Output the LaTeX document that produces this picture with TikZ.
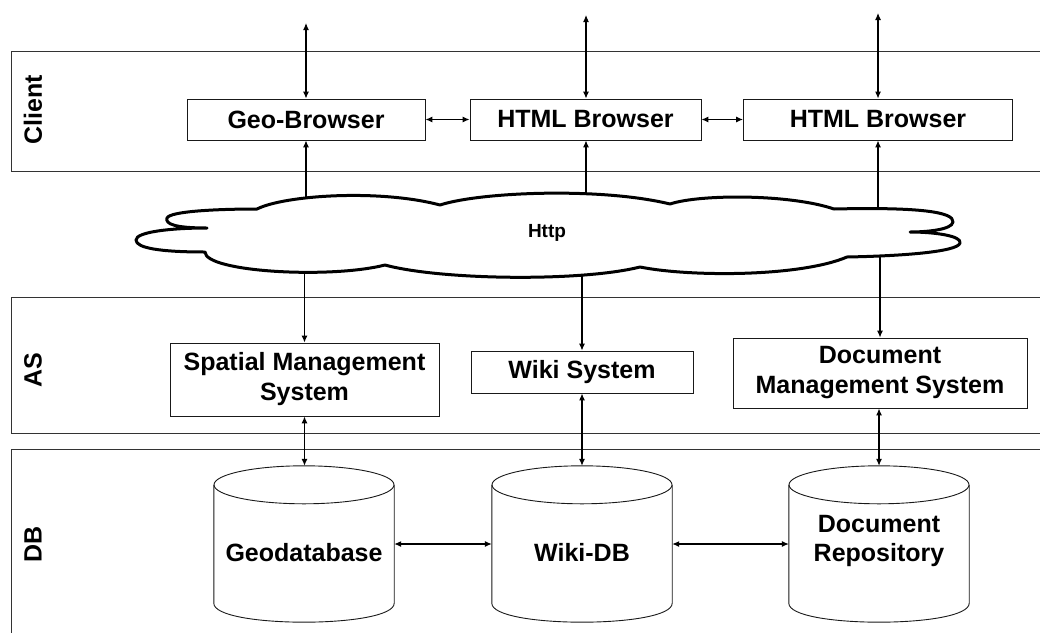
\documentclass[tikz,border=0pt]{standalone}
\usepackage{fontspec}
\setmainfont{Liberation Sans}
\usetikzlibrary{arrows.meta,calc}
\begin{document}
\begin{tikzpicture}[x=1pt,y=-1pt,
  band/.style={draw=black!80, line width=0.9pt},
  box/.style={draw=black!90, line width=0.9pt, fill=white, font=\fontsize{25}{30}\selectfont\bfseries, align=center, inner sep=0pt},
  lbl/.style={font=\fontsize{25}{30}\selectfont\bfseries, rotate=90, inner sep=0pt},
  dbnode/.style={minimum width=180pt, minimum height=156pt, inner sep=0pt, font=\fontsize{25}{29}\selectfont\bfseries},
  cyl/.style={draw=black!90, line width=0.9pt},
  conn/.style={line width=1.1pt, {Latex[length=7pt,width=6pt]}-{Latex[length=7pt,width=6pt]}},
  one/.style={line width=1.1pt, -{Latex[length=7pt,width=6pt]}},
  cloudline/.style={draw, line width=3pt, fill=white, line join=round}
]
\useasboundingbox (0,0) rectangle (1040,632);

% bands
\draw[band] (11.5,51) rectangle (1046,171);
\draw[band] (11.5,297) rectangle (1046,433);
\draw[band] (11.5,449) rectangle (1046,640);
\node[lbl] (lclient) at (33,110) {Client};
\node[lbl] (las) at (33,370) {AS};
\node[lbl] (ldb) at (33,544) {DB};

% client boxes
\node[box, minimum width=238pt, minimum height=41pt] (gb) at (306,119.5) {Geo-Browser};
\node[box, minimum width=231pt, minimum height=41pt] (hb1) at (585.5,119.5) {HTML Browser};
\node[box, minimum width=269pt, minimum height=41pt] (hb2) at (878,119.5) {HTML Browser};

% AS boxes
\node[box, minimum width=269pt, minimum height=73pt] (sms) at (304.5,379.5) {Spatial Management\\System};
\node[box, minimum width=222pt, minimum height=42pt] (wiki) at (582,372) {Wiki System};
\node[box, minimum width=294pt, minimum height=70pt] (dms) at (880,373) {Document\\Management System};

% DB cylinders
\node[dbnode] (geo) at (304,544) {\raisebox{-17pt}[0pt][0pt]{Geodatabase}};
\node[dbnode] (wdb) at (582,544) {\raisebox{-17pt}[0pt][0pt]{Wiki-DB}};
\node[dbnode] (drep) at (879,544) {\raisebox{-17pt}[0pt][0pt]{\parbox[b]{170pt}{\centering Document\\Repository}}};
\foreach \n in {geo,wdb,drep}{
  \draw[cyl] ($(\n.north west)+(0,19)$) -- ($(\n.south west)+(0,-19)$)
     .. controls ($(\n.south west)+(0,6.3)$) and ($(\n.south east)+(0,6.3)$) .. ($(\n.south east)+(0,-19)$)
     -- ($(\n.north east)+(0,19)$);
  \draw[cyl] ($(\n.north)+(0,19)$) ellipse [x radius=90, y radius=19];
}

% connectors
\coordinate (t1) at (306,23);
\coordinate (t2) at (586,15);
\coordinate (t3) at (878,13);
\draw[conn] (t1) -- (gb.north);
\draw[conn] (t2) -- (hb1.north -| t2);
\draw[conn] (t3) -- (hb2.north);
\draw[conn] (gb.east) -- (hb1.west);
\draw[conn] (hb1.east) -- (hb2.west);

\coordinate (c1) at (306,210);
\coordinate (c2) at (586,210);
\coordinate (c3) at (878,220);
\draw[one] (c1) -- (gb.south);
\draw[one] (c2) -- (hb1.south -| c2);
\draw[one] (c3) -- (hb2.south);

\coordinate (d1) at (304.5,262);
\coordinate (d2) at (582,262);
\coordinate (d3) at (880,248);
\draw[one] (d1) -- (sms.north);
\draw[one] (d2) -- (wiki.north);
\draw[one] (d3) -- (dms.north);

\draw[conn] (sms.south) -- (sms.south |- geo.north);
\draw[conn] (wiki.south) -- (wdb.north);
\draw[conn] (dms.south -| drep.north) -- (drep.north);
\draw[conn] (geo.east) -- (wdb.west);
\draw[conn] (wdb.east) -- (drep.west);

% cloud
\path[cloudline] (257,209)
  .. controls (285,195) and (380,189) .. (440,205)
  .. controls (480,192) and (600,187) .. (670,204)
  .. controls (700,194) and (790,194) .. (834,209)
  .. controls (920,207) and (954,212) .. (953,222)
  .. controls (952,230) and (925,232) .. (910,232)
  .. controls (935,232) and (962,236) .. (960,243)
  .. controls (958,252) and (900,256) .. (847,257)
  .. controls (800,277) and (690,277) .. (640,267)
  .. controls (580,282) and (440,280) .. (385,265)
  .. controls (330,279) and (205,272) .. (205,252)
  .. controls (160,252) and (136,248) .. (136,240)
  .. controls (136,232) and (170,228) .. (207,228)
  .. controls (175,228) and (165,224) .. (167,218)
  .. controls (170,211) and (220,209) .. cycle;
\node[font=\fontsize{19}{22}\selectfont\bfseries] (http) at (547,233) {Http};
\end{tikzpicture}
\end{document}
